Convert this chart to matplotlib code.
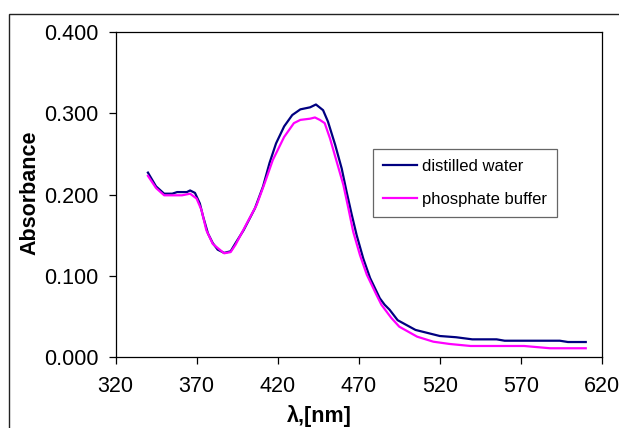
import matplotlib
matplotlib.use("Agg")
import matplotlib.pyplot as plt
from matplotlib.patches import Rectangle

plt.rcParams["font.family"] = ["Liberation Sans", "DejaVu Sans"]

# absorbance spectra, wavelength in nm
water_nm = [340, 345, 350, 355, 358, 364, 366, 369, 372, 374, 377, 380, 383,
            387, 391, 394, 399, 406, 411, 415, 419, 424, 429, 434, 440, 443.6,
            448, 451, 455.5, 459.5, 462.5, 465.7, 468.7, 472.8, 477, 483, 486,
            489, 494, 505, 520, 530, 540, 555, 560, 594, 599, 610]
water_abs = [0.227, 0.210, 0.201, 0.201, 0.203, 0.203, 0.205, 0.202, 0.189,
             0.173, 0.152, 0.140, 0.132, 0.128, 0.130, 0.140, 0.156, 0.183,
             0.210, 0.239, 0.263, 0.284, 0.298, 0.305, 0.3075, 0.311, 0.304,
             0.290, 0.261, 0.232, 0.2035, 0.175, 0.150, 0.121, 0.097, 0.072,
             0.064, 0.058, 0.045, 0.033, 0.0255, 0.024, 0.0214, 0.0214, 0.0197,
             0.0197, 0.0181, 0.0181]

buffer_nm = [340, 345, 350, 361, 366, 370, 373, 376, 380, 387, 391, 394, 401,
             407, 412, 417, 424, 430, 434, 440, 443, 446, 449, 452.3, 456.4,
             460.5, 463.6, 466.6, 470.8, 475, 481, 484, 490, 495, 506, 516, 526,
             539, 572, 588, 610]
buffer_abs = [0.223, 0.208, 0.199, 0.199, 0.201, 0.195, 0.181, 0.156, 0.139,
              0.1275, 0.129, 0.138, 0.1645, 0.187, 0.214, 0.2425, 0.271, 0.288,
              0.292, 0.2935, 0.295, 0.292, 0.288, 0.269, 0.2405, 0.212, 0.183,
              0.154, 0.125, 0.101, 0.076, 0.064, 0.048, 0.037, 0.0247, 0.0185,
              0.0157, 0.0132, 0.0132, 0.0104, 0.0104]

x_ticks = [320, 370, 420, 470, 520, 570, 620]
y_ticks = [0.0, 0.1, 0.2, 0.3, 0.4]

fig = plt.figure(figsize=(6.19, 4.28), dpi=100)
ax = fig.add_axes([0.1866, 0.1666, 0.7859, 0.7579])

ax.plot(water_nm, water_abs, color="#000080", lw=1.6, label="distilled water")
ax.plot(buffer_nm, buffer_abs, color="#FF00FF", lw=1.6, label="phosphate buffer")

ax.set_xlim(320, 620)
ax.set_ylim(0, 0.4)
ax.set_xticks(x_ticks)
ax.set_yticks(y_ticks)
ax.set_yticklabels([f"{v:.3f}" for v in y_ticks])
ax.tick_params(axis="both", direction="out", length=5, width=0.9, labelsize=15.5)
ax.tick_params(axis="y", pad=7)
ax.tick_params(axis="x", pad=9)
for spine in ax.spines.values():
    spine.set_linewidth(0.9)

ax.set_ylabel("Absorbance", fontsize=15.5, fontweight="bold")
ax.yaxis.set_label_coords(-0.155, 0.506)
ax.set_xlabel("λ,[nm]", fontsize=15.5, fontweight="bold")
ax.xaxis.set_label_coords(0.418, -0.148)

leg = ax.legend(loc="upper left", bbox_to_anchor=(0.530, 0.641), borderaxespad=0,
                fontsize=12, frameon=True, fancybox=False, handlelength=2.0,
                handletextpad=0.3, labelspacing=1.1, borderpad=0.6)
leg.get_frame().set_edgecolor("#404040")
leg.get_frame().set_linewidth(0.9)

# chart-area border
fig.patches.append(Rectangle((9 / 619, -0.1), 1.2, 1 - 14 / 428 + 0.1,
                             transform=fig.transFigure, fill=False,
                             edgecolor="#222222", lw=1.0))

fig.savefig("out.png", dpi=100)
